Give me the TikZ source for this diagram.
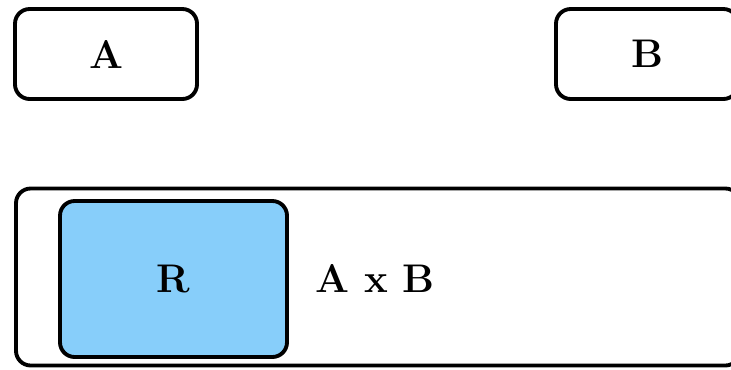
\documentclass[tikz,border=0pt]{standalone}
\usepackage{tikz}

\tikzset{every picture/.style={line width=2.9pt}}
\tikzset{
  setbox/.style={draw, rounded corners=11pt, inner sep=0pt, font=\fontsize{30}{36}\selectfont\bfseries},
}

\begin{document}
\begin{tikzpicture}[x=0.75pt,y=0.75pt,yscale=-1,xscale=1]
\useasboundingbox (0,0) rectangle (731,369);
\clip (0,0) rectangle (731,369);

%Shape: Rounded Rect [set A]
\node (setA) [setbox, minimum width=136.5pt, minimum height=67.5pt] at (106,54) {A};
%Shape: Rounded Rect [set B]
\node (setB) [setbox, minimum width=136.5pt, minimum height=67.5pt] at (647,54) {B};
%Shape: Rounded Rect [product]
\node (prod) [setbox, minimum width=543pt, minimum height=132.75pt] at (378,277) {};
%Shape: Rounded Rect [relation]
\node (rel) [setbox, fill={rgb, 255:red, 135; green, 206; blue, 250}, minimum width=170.25pt, minimum height=117pt] at (173.5,279) {R};

% Text Node
\node (prodlabel) [font=\fontsize{30}{36}\selectfont\bfseries, inner sep=0pt] at (375,278) {A x B};

\end{tikzpicture}
\end{document}
